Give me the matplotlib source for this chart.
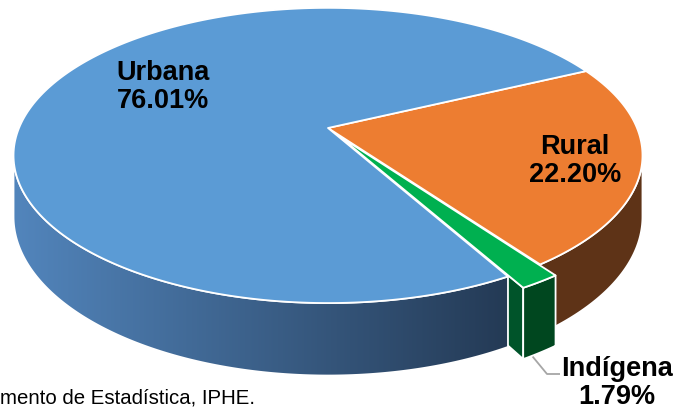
import numpy as np
import matplotlib
matplotlib.use('Agg')
import matplotlib.pyplot as plt
from matplotlib.patches import Polygon

# ---- data ----
categories = ['Urbana', 'Rural', 'Indígena']
values = [76.01, 22.20, 1.79]
top_colors = ['#5b9bd5', '#ed7d31', '#00b050']
side_colors = ['#4a7bb0', '#5e3317', '#00471f']
cut_colors = ['#2a4466', '#5e3317', '#00542a']
explode = [0.0, 0.0, 0.065]
source_text = 'mento de Estadística, IPHE.'

# ---- geometry (pixel space, perspective disc) ----
CX, CY = 328.0, 128.0
R, RY = 309.0, 142.5
P = 0.186
D = 59.0
START = -60.8   # math angle where the first slice starts, slices go clockwise

fig = plt.figure(figsize=(6.76, 4.12), dpi=100)
ax = fig.add_axes([0, 0, 1, 1])
ax.set_xlim(0, 676)
ax.set_ylim(412, 0)
ax.axis('off')


def pt(theta, r=1.0, off=(0.0, 0.0), z=0.0):
    t = np.radians(theta)
    u = r * np.cos(t) + off[0]
    v = r * np.sin(t) + off[1]
    s = 1.0 / (1.0 + P * v)
    return CX + R * u * s, CY - RY * v * s + z * D * s


def arc(lo, hi, off, z=0.0, n=240):
    th = np.linspace(lo, hi, n)
    return [pt(a, 1.0, off, z) for a in th]


# slice angles
total = sum(values)
slices = []
cur = START
for i, val in enumerate(values):
    span = val / total * 360.0
    hi, lo = cur, cur - span
    mid = np.radians((lo + hi) / 2)
    off = (explode[i] * np.cos(mid), explode[i] * np.sin(mid))
    slices.append(dict(lo=lo, hi=hi, off=off, mid=(lo + hi) / 2))
    cur = lo

sil = np.degrees(np.arcsin(P))
FRONT = (-180 + sil, -sil)

WL = 1.3


def draw_top(i):
    s = slices[i]
    poly = [pt(0, 0.0, s['off'])] + arc(s['lo'], s['hi'], s['off'])
    ax.add_patch(Polygon(poly, closed=True, facecolor=top_colors[i],
                         edgecolor='white', lw=WL, joinstyle='round', zorder=3))


def side_polys(i):
    s = slices[i]
    out = []
    for k in (-2, -1, 0, 1):
        a = max(s['lo'], FRONT[0] + 360 * k)
        b = min(s['hi'], FRONT[1] + 360 * k)
        if a < b:
            top = arc(a, b, s['off'])
            bot = arc(a, b, s['off'], z=1.0)[::-1]
            out.append(top + bot)
    return out


def draw_side(i, gradient=None):
    for poly in side_polys(i):
        if gradient is None:
            ax.add_patch(Polygon(poly, closed=True, facecolor=side_colors[i],
                                 edgecolor='white', lw=WL, zorder=2))
        else:
            xs = np.array([p[0] for p in poly])
            ys = np.array([p[1] for p in poly])
            c0, c1 = np.array(gradient[0]), np.array(gradient[1])
            f = np.linspace(0, 1, 256)[None, :, None]
            img = c0[None, None, :] * (1 - f) + c1[None, None, :] * f
            im = ax.imshow(img, extent=[xs.min(), xs.max(), ys.max(), ys.min()],
                           aspect='auto', zorder=2, interpolation='bilinear')
            patch = Polygon(poly, closed=True, facecolor='none',
                            edgecolor='white', lw=WL, zorder=2.1)
            ax.add_patch(patch)
            im.set_clip_path(patch)


def draw_cut(i, which):
    s = slices[i]
    th = s[which]
    poly = [pt(th, 0.0, s['off']), pt(th, 1.0, s['off']),
            pt(th, 1.0, s['off'], 1.0), pt(th, 0.0, s['off'], 1.0)]
    ax.add_patch(Polygon(poly, closed=True, facecolor=cut_colors[i],
                         edgecolor='white', lw=WL, zorder=2))


# painter's order: Rural, Indígena cut face, Urbana, Indígena front
draw_side(1)
draw_cut(1, 'lo')
draw_top(1)
draw_cut(2, 'lo')
draw_side(0, gradient=[(82/255, 133/255, 188/255), (36/255, 58/255, 85/255)])
draw_top(0)
draw_side(2)
draw_top(2)

ax.set_xlim(0, 676)
ax.set_ylim(412, 0)

# ---- labels ----
FONT = 'Liberation Sans'
label_pos = [(163, 87), (575, 161), (617, 383)]
for i, (cat, val) in enumerate(zip(categories, values)):
    ax.text(label_pos[i][0], label_pos[i][1], f'{cat}\n{val:.2f}%',
            ha='center', va='center', fontsize=19.5, fontweight='bold',
            family=FONT, color='black', linespacing=1.1, zorder=5)

# leader line for Indígena
gs = slices[2]
lx, ly = pt(gs['lo'] + 1.8, 1.0, gs['off'], 1.0)
ex, ey = label_pos[2][0] - 57, label_pos[2][1] - 9
ax.plot([lx, ex - 13, ex], [ly + 1, ey, ey], color='#a6a6a6', lw=1.3,
        zorder=4, solid_capstyle='butt')

ax.text(0, 398, source_text, ha='left', va='center', fontsize=14.7,
        family=FONT, color='black', zorder=5)

fig.savefig('out.png', dpi=100)
